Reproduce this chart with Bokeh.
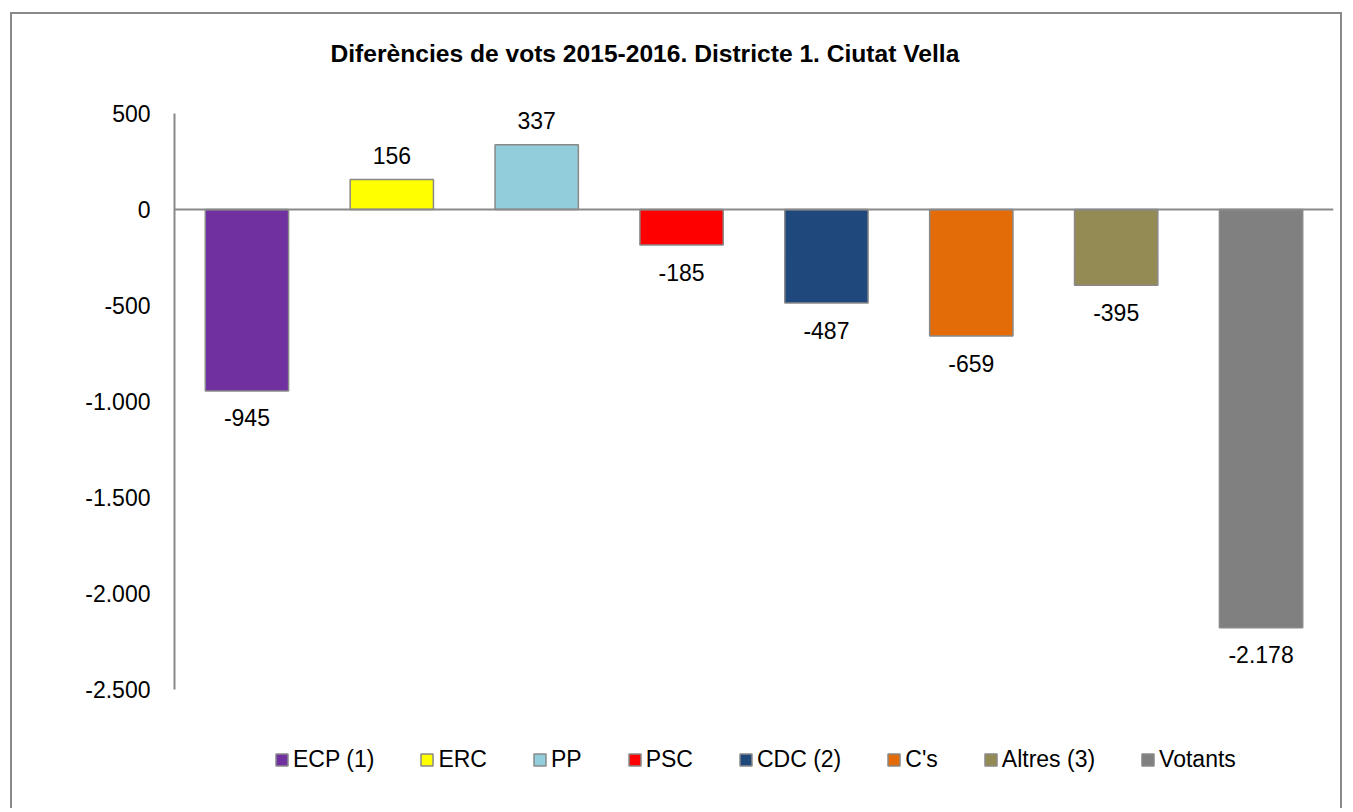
from bokeh.plotting import figure
from bokeh.models import (ColumnDataSource, Range1d, FixedTicker, CustomJSTickFormatter,
                          Span, Legend, LegendItem, Label, InlineStyleSheet)
from bokeh.core.properties import value
from bokeh.embed import file_html
from bokeh.resources import INLINE

categories = ["ECP (1)", "ERC", "PP", "PSC", "CDC (2)", "C's", "Altres (3)", "Votants"]
values = [-945, 156, 337, -185, -487, -659, -395, -2178]
colors = ["#7030A0", "#FFFF00", "#92CDDC", "#FF0000", "#1F497D", "#E36C09", "#948A54", "#808080"]
label_texts = ["-945", "156", "337", "-185", "-487", "-659", "-395", "-2.178"]
y_ticks = [-2500, -2000, -1500, -1000, -500, 0, 500]
axis_min, axis_max = -2500, 500

FONT = "Liberation Sans"
GRAY = "#898989"

# canvas size and layout (pixels)
W, H = 1332, 796
LEFT = 162          # width of y-axis panel
RIGHT = 11
AXIS_TOP_PX = 99    # canvas y of the 500 tick
AXIS_BOT_PX = 675   # canvas y of the -2500 tick
px_per_unit = (AXIS_BOT_PX - AXIS_TOP_PX) / (axis_max - axis_min)
y_hi = axis_max + AXIS_TOP_PX / px_per_unit
y_lo = axis_min - (H - AXIS_BOT_PX) / px_per_unit

src = ColumnDataSource(dict(
    cat=categories, val=values, color=colors, lab=label_texts,
    off=[27 if v < 0 else -24 for v in values],
))

p = figure(x_range=categories, y_range=Range1d(y_lo, y_hi),
           width=W, height=H, output_backend="svg", toolbar_location=None,
           min_border_left=LEFT, min_border_right=RIGHT, min_border_top=0, min_border_bottom=0)
p.margin = (12, 0, 0, 10)
p.stylesheets = [InlineStyleSheet(css=":host { border: 2px solid #898989; border-bottom: none; }")]

p.outline_line_color = None
p.xgrid.visible = False
p.ygrid.visible = False
p.xaxis.visible = False

r = p.vbar(x="cat", top="val", bottom=0, width=0.575, source=src,
           fill_color="color", line_color=GRAY, line_width=1.5)

p.add_layout(Span(location=0, dimension="width", line_color=GRAY, line_width=2))

p.text(x="cat", y="val", text="lab", y_offset="off", source=src,
       text_align="center", text_baseline="middle", text_font_size="23px",
       text_font=value(FONT), text_color="#000000")

ya = p.yaxis[0]
ya.bounds = (axis_min, axis_max)
ya.ticker = FixedTicker(ticks=y_ticks)
ya.formatter = CustomJSTickFormatter(code="""
const s = Math.abs(tick).toFixed(0).replace(/\\B(?=(\\d{3})+(?!\\d))/g, ".");
return (tick < 0 ? "-" : "") + s;
""")
ya.major_tick_line_color = None
ya.minor_tick_line_color = None
ya.axis_line_color = GRAY
ya.axis_line_width = 2
ya.major_label_standoff = 18
ya.major_label_text_font = FONT
ya.major_label_text_font_size = "23px"
ya.major_label_text_color = "#000000"

# title (frame-relative screen units, y measured up from the frame bottom)
p.add_layout(Label(text="Diferències de vots 2015-2016. Districte 1. Ciutat Vella",
                   x=156, y=H - 39, x_units="screen", y_units="screen",
                   text_font=FONT, text_font_size="24.6px", text_font_style="bold",
                   text_color="#000000", text_align="left", text_baseline="middle"))

items = [LegendItem(label=c, renderers=[r], index=i) for i, c in enumerate(categories)]
legend = Legend(items=items, orientation="horizontal", location=(100, 37),
                label_text_font=FONT, label_text_font_size="23px", label_text_color="#000000",
                glyph_width=15, glyph_height=15, label_standoff=4, spacing=45,
                padding=0, margin=0, border_line_color=None, background_fill_alpha=0)
p.add_layout(legend)

open("out.html", "w").write(file_html(p, INLINE))
